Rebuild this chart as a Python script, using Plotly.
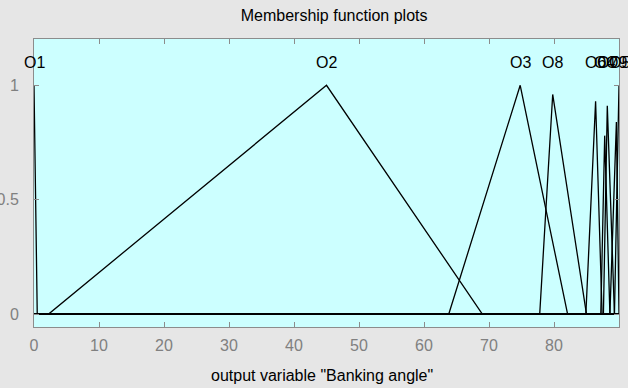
import plotly.graph_objects as go

# Output variable "Banking angle": membership functions as polyline vertices
mf_names = ["O1", "O2", "O3", "O8", "O6", "O4", "O7", "O9", "O5"]
mf_x = [
    [0, 0.5, 90],
    [0, 2.2, 45, 69, 90],
    [0, 63.8, 74.8, 82.1, 90],
    [0, 77.8, 79.8, 85.0, 90],
    [0, 84.9, 86.4, 87.4, 90],
    [0, 87.2, 87.8, 88.6, 90],
    [0, 87.6, 88.2, 89.3, 90],
    [0, 88.6, 89.6, 90],
    [0, 89.3, 90],
]
mf_y = [
    [1, 0, 0],
    [0, 0, 1, 0, 0],
    [0, 0, 1, 0, 0],
    [0, 0, 0.96, 0, 0],
    [0, 0, 0.93, 0, 0],
    [0, 0, 0.78, 0, 0],
    [0, 0, 0.91, 0, 0],
    [0, 0, 0.84, 0],
    [0, 0, 1],
]
# label positions (x of each function's peak)
label_x = [0, 45, 74.8, 79.8, 86.4, 87.8, 88.2, 89.6, 90]
label_y = 1.1

x_range = [0, 90]
y_range = [-0.0556, 1.202]
x_ticks = [0, 10, 20, 30, 40, 50, 60, 70, 80]
y_ticks = [0, 0.5, 1]

FONT = "Liberation Sans, Arial, sans-serif"
AXIS_GRAY = "#8c8c8c"
LABEL_GRAY = "#808080"

fig = go.Figure()
for name, xs, ys in zip(mf_names, mf_x, mf_y):
    fig.add_trace(go.Scatter(
        x=xs, y=ys, mode="lines", name=name,
        line=dict(color="#000000", width=1.3),
        hoverinfo="skip", showlegend=False,
    ))

for name, lx in zip(mf_names, label_x):
    fig.add_annotation(
        x=lx, y=label_y, xref="x", yref="y", text=name, showarrow=False,
        font=dict(family=FONT, size=16, color="#000000"),
        xanchor="center", yanchor="middle",
    )

fig.add_annotation(
    x=0.493, y=-0.168, xref="paper", yref="paper",
    text='output variable "Banking angle"', showarrow=False,
    font=dict(family=FONT, size=16, color="#000000"),
    xanchor="center", yanchor="middle",
)

fig.update_layout(
    width=628, height=388,
    margin=dict(l=34, r=9, t=39, b=61, autoexpand=False),
    paper_bgcolor="#e6e6e6",
    plot_bgcolor="#ccffff",
    font=dict(family=FONT, size=16, color=LABEL_GRAY),
    title=dict(
        text="Membership function plots",
        x=0.513, xref="paper", xanchor="center",
        y=1 - 15 / 388, yref="container", yanchor="middle",
        font=dict(family=FONT, size=16, color="#000000"),
    ),
    hovermode=False,
)

fig.update_xaxes(
    range=x_range, tickvals=x_ticks, ticktext=[str(v) for v in x_ticks],
    showgrid=False, zeroline=False, automargin=False,
    showline=True, linecolor=AXIS_GRAY, linewidth=1, mirror="ticks",
    ticks="inside", ticklen=5, tickcolor=AXIS_GRAY, tickwidth=1,
    tickfont=dict(family=FONT, size=16, color=LABEL_GRAY),
    ticklabelstandoff=4,
)
fig.update_yaxes(
    range=y_range, tickvals=y_ticks, ticktext=["0", "0.5", "1"],
    showgrid=False, zeroline=False, automargin=False,
    showline=True, linecolor=AXIS_GRAY, linewidth=1, mirror="ticks",
    ticks="inside", ticklen=5, tickcolor=AXIS_GRAY, tickwidth=1,
    tickfont=dict(family=FONT, size=16, color=LABEL_GRAY),
    ticklabelstandoff=11,
)

fig.write_html("out.html")
